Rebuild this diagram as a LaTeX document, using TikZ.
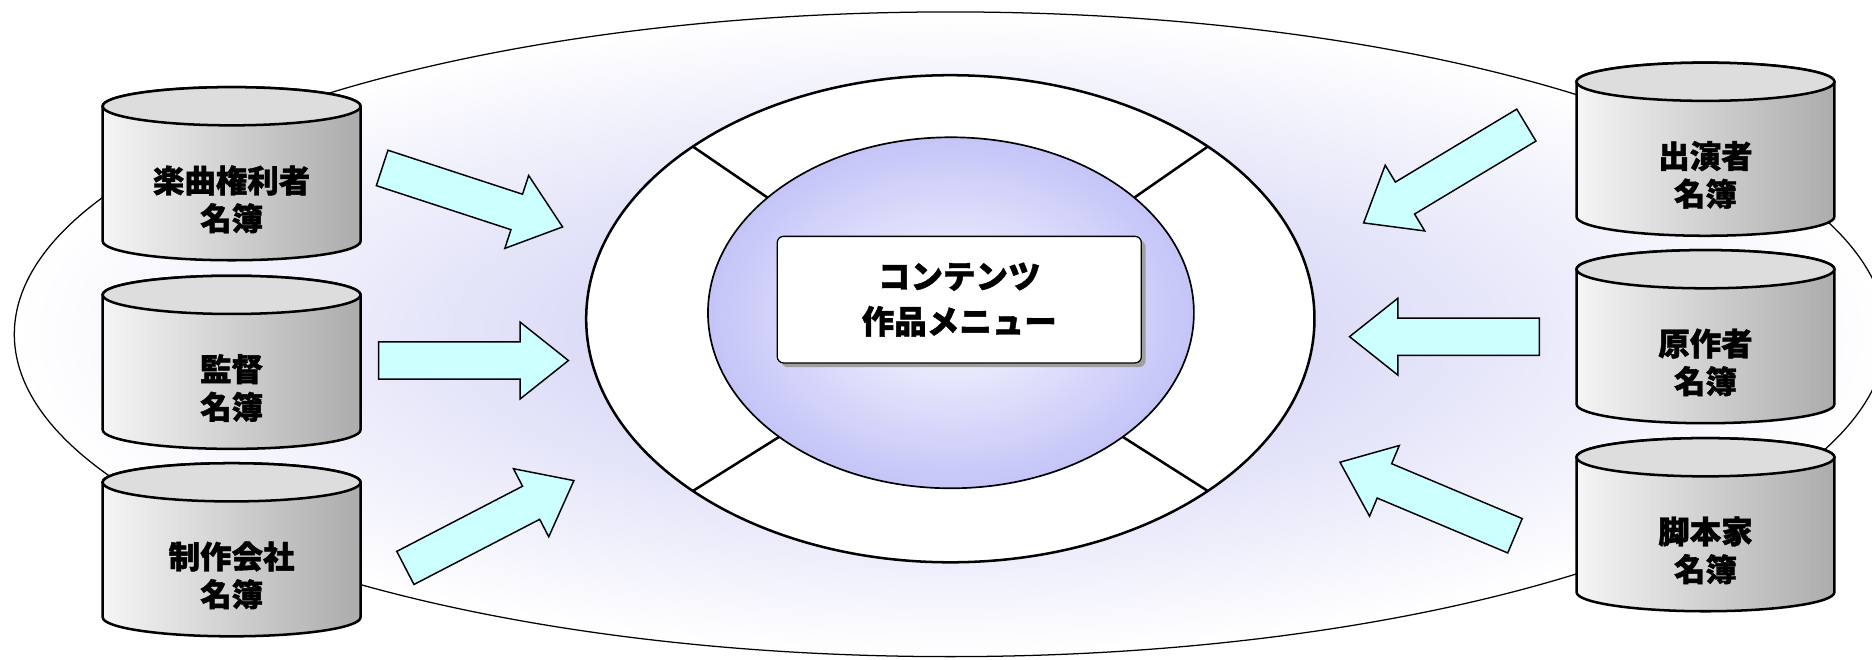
\documentclass[tikz,border=0pt]{standalone}
\usepackage{fontspec}
\setmainfont{Noto Sans CJK JP}[BoldFeatures={FakeBold=1.2}]
\usetikzlibrary{shapes.geometric,shapes.arrows,shadows,calc}
\definecolor{haze}{RGB}{198,198,243}
\definecolor{corelav}{RGB}{196,196,248}
\definecolor{capgray}{RGB}{221,221,221}
\definecolor{bodygray}{RGB}{172,172,172}
\definecolor{flowcyan}{RGB}{204,255,255}
\tikzset{
  dbtext/.style={align=center,font=\bfseries\fontsize{15}{18}\selectfont},
  dbbody/.style={draw,line width=1.2pt,left color=white!96!black,right color=bodygray},
  dbcap/.style={draw,line width=1.2pt,fill=capgray},
  flowarr/.style={single arrow,draw,line width=.7pt,fill=flowcyan,anchor=tail,
    minimum height=3.18cm,inner xsep=0pt,inner ysep=.3cm,
    single arrow head extend=.33cm,single arrow tip angle=77},
}
\begin{document}
\begin{tikzpicture}
\clip (0,0) rectangle (31.36,11.04);
\draw[line width=.6pt,inner color=haze,outer color=white] (15.92,5.44) ellipse [x radius=15.68,y radius=5.40];
\node[ellipse,draw,line width=1.2pt,fill=white,minimum width=12.2cm,minimum height=8.16cm,inner sep=0pt] (ring) at (15.92,5.70) {};
\foreach \a/\b in {45/41,135/139,225/225,315/315}
  \draw[line width=1.2pt] ($(ring.center)+(\a:6.1 and 4.08)$) -- ($(15.93,5.80)+(\b:4.07 and 2.94)$);
\node[ellipse,draw,line width=.8pt,inner color=white!92!corelav,outer color=corelav,minimum width=8.14cm,minimum height=5.88cm,inner sep=0pt] (core) at (15.93,5.80) {};
\node[draw,fill=white,rounded corners=3pt,line width=.6pt,minimum width=6.1cm,minimum height=2.12cm,
  drop shadow={shadow xshift=2pt,shadow yshift=-2pt,fill=gray!75,opacity=1},
  align=center,font=\bfseries\fontsize{15.5}{21.5}\selectfont] (menu) at (16.07,6.02) {コンテンツ\\作品メニュー};
\foreach \nm/\x/\y/\txt in {music/3.88/8.13/{楽曲権利者\\名簿},director/3.88/4.97/{監督\\名簿},studio/3.88/1.83/{制作会社\\名簿},
  cast/28.57/8.54/{出演者\\名簿},author/28.57/5.40/{原作者\\名簿},writer/28.57/2.25/{脚本家\\名簿}} {
  \shade[dbbody] (\x-2.16,\y+1.13) -- (\x-2.16,\y-1.13) arc[start angle=180,end angle=360,x radius=2.16,y radius=.32]
    -- (\x+2.16,\y+1.13) arc[start angle=0,end angle=180,x radius=2.16,y radius=.32] -- cycle;
  \draw[dbcap] (\x,\y+1.13) ellipse [x radius=2.16,y radius=.32];
  \node[dbtext] (\nm) at (\x,\y-.43) {\txt};
}
\foreach \nm/\x/\y/\ang in {fa/6.39/8.23/-18.1,fb/6.33/5.00/0,fc/6.78/1.52/27.4,fd/25.58/8.95/211,fe/25.80/5.40/180,ff/25.39/2.06/157.2}
  \node[flowarr,rotate=\ang] (\nm) at (\x,\y) {};
\end{tikzpicture}
\end{document}
